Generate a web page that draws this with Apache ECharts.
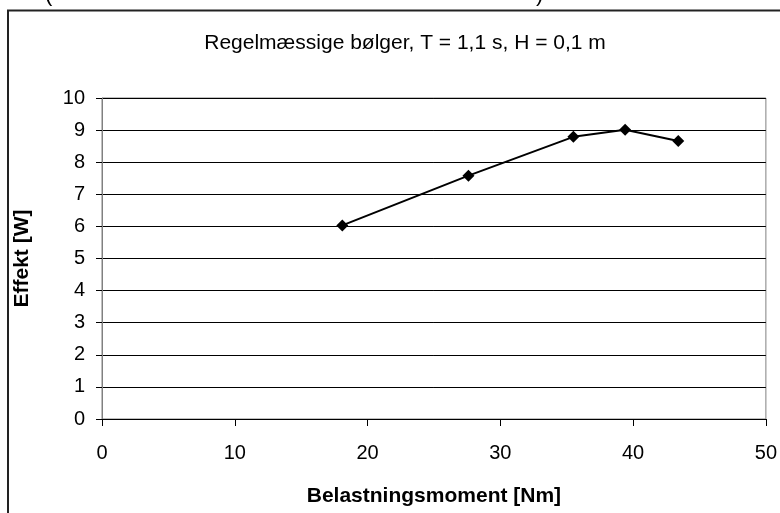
<!DOCTYPE html>
<html>
<head>
<meta charset="utf-8">
<script src="https://cdn.jsdelivr.net/npm/echarts@6/dist/echarts.min.js"></script>
<style>html,body{margin:0;padding:0;background:#fff;}#c{width:780px;height:513px;}</style>
</head>
<body>
<div id="c"></div>
<script>
var titleText = 'Regelmæssige bølger, T = 1,1 s, H = 0,1 m';
var xName = 'Belastningsmoment [Nm]';
var yName = 'Effekt [W]';
var xValues = [18.1, 27.6, 35.5, 39.4, 43.4];
var yValues = [6.03, 7.58, 8.79, 9.01, 8.66];
var xTicks = [0, 10, 20, 30, 40, 50];
var yTicks = [0, 1, 2, 3, 4, 5, 6, 7, 8, 9, 10];

var F = '"Liberation Sans", Arial, sans-serif';
var chart = echarts.init(document.getElementById('c'), null, {renderer: 'canvas'});
var pts = xValues.map(function (x, i) { return [x, yValues[i]]; });
chart.setOption({
  animation: false,
  backgroundColor: '#fff',
  title: {
    text: titleText, left: 400, top: 28, textAlign: 'center',
    textStyle: {fontFamily: F, fontSize: 21, fontWeight: 'normal', color: '#000'}
  },
  grid: {left: 102, right: 12, top: 98, bottom: 94, show: true, borderColor: '#808080', borderWidth: 1},
  xAxis: {
    type: 'value', min: xTicks[0], max: xTicks[xTicks.length - 1], interval: 10,
    name: xName, nameLocation: 'middle', nameGap: 67,
    nameTextStyle: {fontFamily: F, fontSize: 21, fontWeight: 'bold', color: '#000'},
    axisLine: {show: true, lineStyle: {color: '#000', width: 1}},
    axisTick: {show: true, inside: false, length: 7, lineStyle: {color: '#000'}},
    axisLabel: {fontFamily: F, fontSize: 20, color: '#000', margin: 24},
    splitLine: {show: false}
  },
  yAxis: {
    type: 'value', min: yTicks[0], max: yTicks[yTicks.length - 1], interval: 1,
    name: yName, nameLocation: 'middle', nameGap: 69, nameRotate: 90,
    nameTextStyle: {fontFamily: F, fontSize: 21, fontWeight: 'bold', color: '#000'},
    axisLine: {show: true, lineStyle: {color: '#808080', width: 1}},
    axisTick: {show: true, inside: false, length: 6, lineStyle: {color: '#000'}},
    axisLabel: {fontFamily: F, fontSize: 20, color: '#000', margin: 17},
    splitLine: {show: true, lineStyle: {color: '#000', width: 1}}
  },
  series: [{
    type: 'line', data: pts, symbol: 'diamond', symbolSize: 12,
    lineStyle: {color: '#000', width: 2},
    itemStyle: {color: '#000'}
  }],
  graphic: [
    {type: 'rect', shape: {x: 8, y: 10.5, width: 820, height: 620}, style: {fill: null, stroke: '#222', lineWidth: 2}, silent: true, z: 100},
    {type: 'text', x: 45, y: 6, style: {text: '(', font: '22px ' + F, fill: '#000', textVerticalAlign: 'bottom'}},
    {type: 'text', x: 536, y: 6, style: {text: ')', font: '22px ' + F, fill: '#000', textVerticalAlign: 'bottom'}}
  ]
});
</script>
</body>
</html>
